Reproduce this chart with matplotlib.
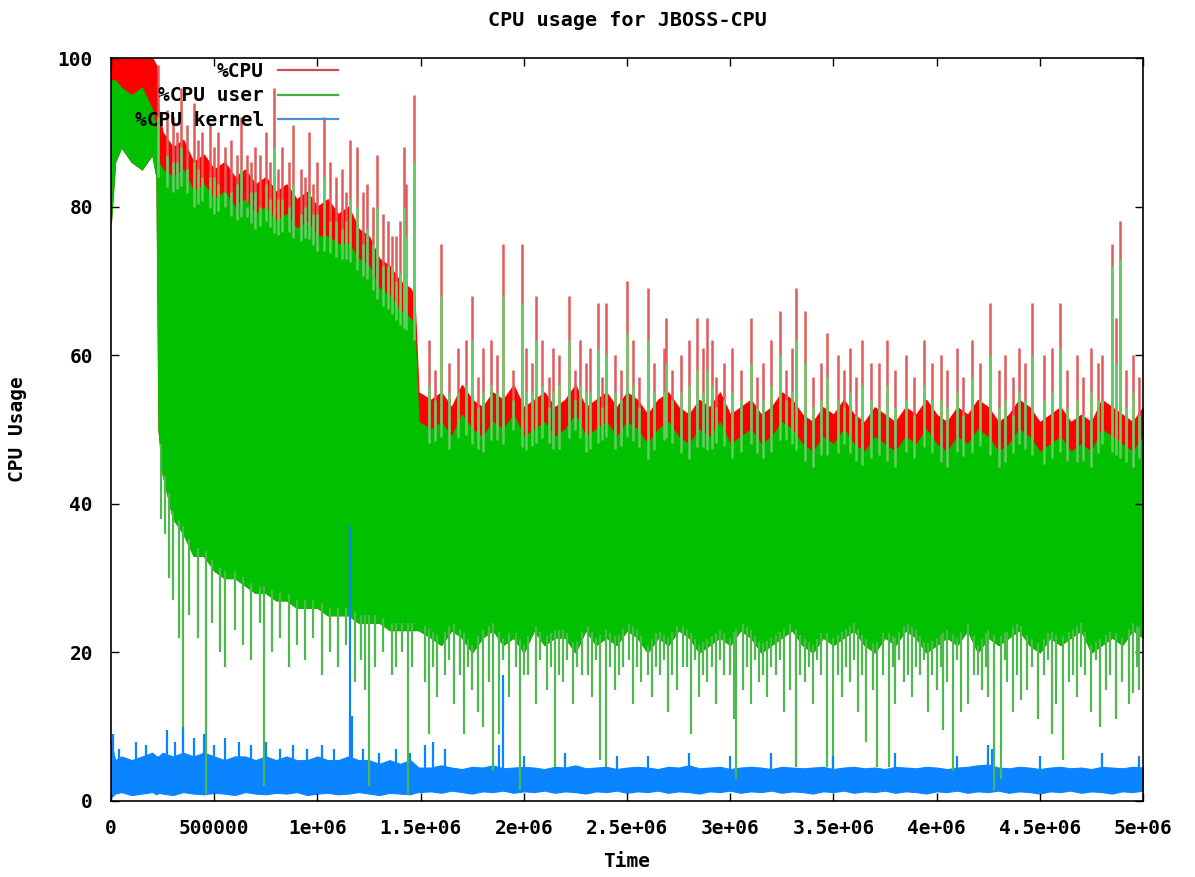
import numpy as np
import matplotlib
matplotlib.use("Agg")
import matplotlib.pyplot as plt
from matplotlib.lines import Line2D

# ---------------- data (time in millions, values in % CPU) ----------------
grid_t_million = [
    0.00, 0.02, 0.05, 0.10, 0.15, 0.20, 0.22, 0.23,
    0.25, 0.30, 0.35, 0.40, 0.45, 0.50, 0.55, 0.60, 0.65, 0.70,
    0.75, 0.80, 0.85, 0.90, 0.95, 1.00, 1.05, 1.10, 1.15, 1.20,
    1.25, 1.30, 1.35, 1.40, 1.45, 1.47, 1.49,
    1.55, 1.60, 1.65, 1.70, 1.75, 1.80, 1.85, 1.90, 1.95, 2.00,
    2.05, 2.10, 2.15, 2.20, 2.25, 2.30, 2.35, 2.40, 2.45, 2.50,
    2.55, 2.60, 2.65, 2.70, 2.75, 2.80, 2.85, 2.90, 2.95, 3.00,
    3.05, 3.10, 3.15, 3.20, 3.25, 3.30, 3.35, 3.40, 3.45, 3.50,
    3.55, 3.60, 3.65, 3.70, 3.75, 3.80, 3.85, 3.90, 3.95, 4.00,
    4.05, 4.10, 4.15, 4.20, 4.25, 4.30, 4.35, 4.40, 4.45, 4.50,
    4.55, 4.60, 4.65, 4.70, 4.75, 4.80, 4.85, 4.90, 4.95, 5.00,
]

cpu_top = [
    100, 100, 100, 100, 100, 100, 99, 93,
    90, 88, 89, 86, 87, 85, 86, 84, 85, 83,
    84, 82, 83, 81, 82, 80, 81, 79, 80, 77,
    76, 73, 72, 70, 69, 68, 55,
    54, 55, 53, 56, 54, 53, 55, 54, 56, 53,
    54, 55, 53, 54, 56, 53, 54, 55, 53, 55,
    54, 52, 54, 55, 53, 52, 54, 53, 55, 52,
    53, 54, 52, 53, 55, 54, 52, 51, 53, 52,
    54, 52, 51, 53, 52, 51, 53, 52, 54, 52,
    51, 53, 52, 54, 53, 51, 52, 54, 53, 51,
    52, 53, 51, 52, 51, 54, 53, 52, 51, 53,
]

user_top = [
    97, 97, 96, 95, 96, 93, 90, 86,
    85, 84, 85, 82, 83, 81, 82, 80, 81, 79,
    80, 78, 79, 77, 78, 76, 76, 75, 75, 73,
    72, 69, 68, 66, 65, 64, 51,
    50, 51, 49, 52, 50, 49, 51, 50, 52, 49,
    50, 51, 49, 50, 52, 49, 50, 51, 49, 51,
    50, 48, 50, 51, 49, 48, 50, 49, 51, 48,
    49, 50, 48, 49, 51, 50, 48, 47, 49, 48,
    50, 48, 47, 49, 48, 47, 49, 48, 50, 48,
    47, 49, 48, 50, 49, 47, 48, 50, 49, 47,
    48, 49, 47, 48, 47, 50, 49, 48, 47, 49,
]

user_bottom = [
    78, 86, 88, 86, 85, 87, 84, 50,
    44, 38, 36, 33, 33, 31, 30, 30, 29, 28,
    28, 27, 27, 26, 26, 26, 25, 25, 25, 24,
    24, 24, 23, 23, 23, 23, 23,
    22, 21, 23, 22, 20, 22, 23, 21, 22, 20,
    23, 21, 22, 22, 20, 23, 21, 22, 21, 23,
    22, 20, 22, 21, 23, 22, 20, 21, 22, 21,
    23, 22, 20, 21, 22, 23, 21, 20, 22, 21,
    22, 23, 21, 20, 22, 21, 23, 22, 20, 21,
    22, 21, 23, 20, 22, 21, 22, 23, 21, 20,
    22, 21, 22, 23, 20, 21, 22, 21, 23, 22,
]

kernel_top = [
    8.0, 5.5, 6.0, 5.5, 6.0, 6.5, 6.0, 6.0,
    6.5, 6.0, 6.5, 6.0, 6.5, 6.0, 5.5, 6.0, 6.0, 5.5,
    6.0, 5.5, 6.0, 5.5, 5.5, 6.0, 5.5, 5.5, 6.0, 5.5,
    5.5, 5.0, 5.5, 5.0, 5.5, 5.0, 4.5,
    4.5, 4.8, 4.5, 4.3, 4.6, 4.5, 4.8, 4.4, 4.5, 4.6,
    4.5, 4.3, 4.6, 4.5, 4.8, 4.4, 4.5, 4.6, 4.3, 4.5,
    4.6, 4.5, 4.3, 4.6, 4.5, 4.8, 4.4, 4.5, 4.6, 4.3,
    4.5, 4.6, 4.5, 4.3, 4.6, 4.5, 4.4, 4.5, 4.6, 4.3,
    4.5, 4.6, 4.4, 4.5, 4.3, 4.6, 4.5, 4.4, 4.6, 4.5,
    4.3, 4.5, 4.6, 4.8, 4.9, 4.5, 4.4, 4.6, 4.5, 4.3,
    4.5, 4.6, 4.4, 4.5, 4.3, 4.6, 4.5, 4.4, 4.6, 4.5,
]

kernel_bottom = [
    0.5, 1.0, 1.2, 0.8, 1.0, 1.2, 0.9, 1.1,
    1.0, 0.8, 1.2, 1.0, 0.9, 1.1, 1.0, 0.8, 1.2, 1.0,
    0.9, 1.1, 1.0, 1.2, 0.8, 1.0, 1.1, 0.9, 1.0, 1.2,
    1.0, 0.8, 1.1, 1.0, 0.9, 1.1, 1.2,
    1.3, 1.1, 1.4, 1.2, 1.0, 1.3, 1.2, 1.4, 1.1, 1.3,
    1.2, 1.4, 1.1, 1.3, 1.2, 1.0, 1.3, 1.2, 1.4, 1.1,
    1.3, 1.2, 1.4, 1.1, 1.3, 1.2, 1.0, 1.3, 1.2, 1.4,
    1.1, 1.3, 1.2, 1.4, 1.1, 1.3, 1.2, 1.0, 1.3, 1.2,
    1.4, 1.1, 1.3, 1.2, 1.4, 1.1, 1.3, 1.2, 1.0, 1.3,
    1.2, 1.4, 1.1, 1.3, 1.2, 1.4, 1.1, 1.3, 1.2, 1.0,
    1.3, 1.2, 1.4, 1.1, 1.3, 1.2, 1.0, 1.3, 1.2, 1.4,
]

# upward spikes: %CPU peak and the %CPU user peak beneath it
cpu_spike_t_million = [
    0.23, 0.27, 0.30, 0.34, 0.37, 0.40, 0.44, 0.48, 0.52, 0.55,
    0.58, 0.63, 0.66, 0.70, 0.72, 0.75, 0.79, 0.83, 0.86, 0.88,
    0.92, 0.96, 1.00, 1.03, 1.06, 1.09, 1.12, 1.16, 1.19, 1.22,
    1.24, 1.29, 1.32, 1.34, 1.38, 1.40, 1.42, 1.43, 1.47,
    1.54, 1.60, 1.68, 1.72, 1.75, 1.80, 1.84, 1.90, 1.99, 2.01,
    2.06, 2.09, 2.14, 2.22, 2.27, 2.32, 2.36, 2.40, 2.50, 2.53,
    2.60, 2.68, 2.69, 2.80, 2.84, 2.87, 2.89, 2.91, 3.01, 3.10,
    3.20, 3.24, 3.30, 3.32, 3.36, 3.47, 3.52, 3.58, 3.64, 3.72,
    3.76, 3.85, 3.94, 4.02, 4.10, 4.17, 4.26, 4.33, 4.40, 4.46,
    4.52, 4.56, 4.60, 4.68, 4.75, 4.80, 4.85, 4.87, 4.89, 4.95,
    4.98,
    1.57, 1.64, 1.78, 1.87, 1.95, 2.04, 2.12, 2.17, 2.25, 2.30,
    2.38, 2.44, 2.47, 2.56, 2.63, 2.72, 2.76, 2.93, 2.97, 3.05,
    3.13, 3.16, 3.27, 3.40, 3.44, 3.55, 3.61, 3.68, 3.80, 3.89,
    3.98, 4.05, 4.13, 4.21, 4.30, 4.37, 4.43, 4.63, 4.71, 4.78,
    4.92,
    0.32, 0.42, 0.50, 0.61, 0.68, 0.77, 0.81, 0.94, 0.98, 1.14,
    1.27, 1.36,
]
cpu_spike_value = [
    99, 93, 92, 96, 91, 94, 90, 91, 90, 88,
    89, 92, 87, 88, 87, 90, 96, 88, 86, 91,
    85, 90, 86, 92, 86, 84, 85, 89, 88, 82,
    83, 87, 79, 78, 76, 78, 88, 83, 95,
    62, 75, 61, 62, 68, 61, 62, 75, 75, 61,
    68, 62, 61, 68, 62, 61, 67, 67, 70, 62,
    69, 61, 65, 62, 65, 61, 65, 62, 61, 65,
    62, 66, 61, 69, 66, 63, 60, 61, 62, 59,
    62, 60, 62, 60, 61, 62, 67, 60, 61, 67,
    60, 61, 67, 60, 61, 60, 75, 65, 78, 60,
    57,
    58, 59, 57, 60, 58, 59, 57, 60, 58, 59,
    57, 60, 58, 57, 59, 58, 60, 57, 59, 58,
    57, 59, 58, 57, 59, 58, 57, 59, 58, 57,
    59, 58, 57, 59, 58, 57, 59, 58, 57, 59,
    58,
    90, 89, 88, 87, 86, 86, 85, 84, 83, 82,
    80, 76,
]
user_spike_value = [
    92, 87, 86, 88, 85, 86, 84, 84, 83, 82,
    82, 85, 80, 82, 80, 83, 88, 81, 80, 83,
    79, 82, 79, 84, 78, 78, 77, 81, 80, 75,
    77, 80, 72, 72, 70, 71, 80, 76, 86,
    56, 68, 55, 56, 62, 55, 56, 68, 67, 55,
    62, 56, 55, 62, 56, 55, 61, 60, 63, 56,
    62, 55, 59, 56, 58, 55, 58, 56, 55, 59,
    56, 60, 55, 62, 59, 57, 54, 55, 56, 53,
    56, 54, 56, 54, 55, 57, 60, 54, 55, 60,
    54, 55, 61, 54, 55, 54, 72, 59, 73, 55,
    52,
    54, 55, 53, 55, 54, 55, 53, 56, 54, 55,
    53, 55, 54, 53, 55, 54, 55, 53, 54, 54,
    53, 54, 54, 53, 54, 53, 52, 54, 53, 52,
    54, 53, 52, 54, 53, 52, 54, 53, 52, 54,
    53,
    86, 85, 84, 83, 82, 81, 81, 80, 79, 78,
    75, 72,
]

# downward dips of %CPU user
user_dip_t_million = [
    0.24, 0.26, 0.28, 0.30, 0.33, 0.35, 0.38, 0.42, 0.46, 0.49,
    0.53, 0.55, 0.60, 0.64, 0.68, 0.72, 0.74, 0.78, 0.82, 0.86,
    0.90, 0.94, 0.98, 1.02, 1.06, 1.10, 1.14, 1.18, 1.21, 1.23,
    1.25, 1.28, 1.32, 1.36, 1.38, 1.41, 1.44, 1.46,
    1.52, 1.54, 1.58, 1.62, 1.66, 1.71, 1.75, 1.78, 1.80, 1.83,
    1.85, 1.88, 1.93, 1.98, 2.02, 2.06, 2.11, 2.15, 2.19, 2.24,
    2.28, 2.33, 2.37, 2.40, 2.44, 2.48, 2.53, 2.57, 2.62, 2.66,
    2.70, 2.74, 2.77, 2.81, 2.85, 2.89, 2.93, 2.97, 3.02, 3.03,
    3.06, 3.10, 3.14, 3.18, 3.22, 3.26, 3.29, 3.32, 3.36, 3.40,
    3.44, 3.47, 3.50, 3.54, 3.58, 3.62, 3.66, 3.69, 3.71, 3.74,
    3.77, 3.80, 3.84, 3.88, 3.92, 3.96, 4.00, 4.03, 4.05, 4.08,
    4.12, 4.15, 4.18, 4.22, 4.25, 4.28, 4.31, 4.34, 4.37, 4.41,
    4.44, 4.49, 4.52, 4.56, 4.58, 4.61, 4.64, 4.68, 4.72, 4.75,
    4.79, 4.82, 4.87, 4.90, 4.93, 4.95, 4.98,
    1.56, 1.64, 1.69, 1.73, 1.90, 1.96, 2.00, 2.08, 2.13, 2.17,
    2.21, 2.26, 2.31, 2.35, 2.42, 2.46, 2.51, 2.55, 2.60, 2.64,
    2.68, 2.72, 2.79, 2.83, 2.87, 2.91, 2.95, 3.00, 3.08, 3.12,
    3.16, 3.20, 3.24, 3.34, 3.38, 3.42, 3.52, 3.56, 3.60, 3.64,
    3.79, 3.82, 3.86, 3.90, 3.94, 3.98, 4.02, 4.10, 4.20, 4.24,
    4.33, 4.39, 4.46, 4.54, 4.66, 4.70, 4.77, 4.84, 4.97,
]
user_dip_value = [
    38, 36, 30, 27, 22, 2, 25, 22, 1, 24,
    20, 18, 23, 21, 19, 24, 2, 20, 22, 18,
    21, 19, 22, 17, 20, 18, 21, 16, 19, 15,
    2, 18, 20, 17, 18, 20, 1, 18,
    16, 9, 14, 17, 13, 9, 15, 12, 10, 16,
    4, 9, 14, 1.5, 17, 13, 15, 4.6, 16, 13,
    17, 14, 5.5, 4.6, 15, 18, 13, 16, 14, 17,
    12, 15, 18, 9, 14, 16, 13, 17, 11, 3,
    15, 13, 16, 14, 17, 12, 15, 4.6, 16, 13,
    17, 4.6, 1.5, 14, 16, 12, 8, 15, 4.6, 17,
    4.6, 13, 16, 14, 17, 12, 15, 9.5, 16, 4,
    12, 13, 17, 15, 14, 1.5, 3, 16, 12, 13.6,
    15, 11, 17, 9, 13, 5.5, 16, 14, 17, 12,
    10, 15, 11, 16, 13, 14.5, 15,
    18, 19, 17, 18, 19, 18, 17, 19, 18, 17,
    19, 18, 17, 19, 18, 17, 19, 18, 17, 18,
    19, 17, 18, 19, 17, 18, 19, 17, 18, 19,
    17, 18, 19, 17, 18, 19, 17, 18, 19, 17,
    18, 19, 17, 18, 19, 17, 18, 19, 17, 18,
    19, 17, 18, 19, 17, 18, 19, 17, 18,
]

# upward spikes of %CPU kernel
kernel_spike_t_million = [
    0.01, 0.04, 0.12, 0.17, 0.27, 0.31, 0.35, 0.40, 0.45, 0.50,
    0.55, 0.62, 0.68, 0.75, 0.82, 0.88, 0.95, 1.02, 1.08, 1.16,
    1.17, 1.22, 1.30, 1.38, 1.45, 1.52, 1.56, 1.62, 1.88, 1.90,
    2.00, 2.20, 2.45, 2.60, 2.80, 3.00, 3.20, 3.50, 3.80, 4.10,
    4.25, 4.27, 4.50, 4.80, 4.98,
]
kernel_spike_value = [
    9, 7, 8, 7.5, 9.5, 8, 10, 8.5, 9, 7.5,
    8.5, 8, 7.5, 8, 7, 7.5, 7, 7.5, 7, 37,
    11.5, 7, 6.5, 7, 6.5, 7.5, 8, 7, 7.5, 17,
    6, 6.5, 6, 6, 6.5, 6, 6.5, 6, 6.5, 6,
    7.5, 7, 6, 6.5, 6,
]

series_labels = ["%CPU", "%CPU user", "%CPU kernel"]
x_ticks = [0, 500000, 1000000, 1500000, 2000000, 2500000,
           3000000, 3500000, 4000000, 4500000, 5000000]
x_tick_labels = ["0", "500000", "1e+06", "1.5e+06", "2e+06", "2.5e+06",
                 "3e+06", "3.5e+06", "4e+06", "4.5e+06", "5e+06"]
y_ticks = [0, 20, 40, 60, 80, 100]

# ---------------- styling ----------------
RED = "#ff0000"
GREEN = "#00c000"
BLUE = "#0a84ff"
FONT = "DejaVu Sans Mono"

plt.rcParams["font.family"] = [FONT, "DejaVu Sans"]
plt.rcParams["font.weight"] = "bold"

fig = plt.figure(figsize=(11.95, 8.77), dpi=100)
ax = fig.add_axes([111 / 1195, 1 - 801 / 877, 1032 / 1195, 743 / 877])

t = np.array(grid_t_million) * 1e6
cpu_top_a = np.array(cpu_top, dtype=float)
user_top_a = np.array(user_top, dtype=float)
user_bot_a = np.array(user_bottom, dtype=float)

# %CPU (drawn first, overlapped by user)
ax.fill_between(t, user_bot_a, cpu_top_a, color=RED, lw=0.8, edgecolor=RED)
st = np.array(cpu_spike_t_million) * 1e6
ax.vlines(st, np.interp(st, t, user_top_a), cpu_spike_value,
          colors="#e05a5a", lw=1.8)

# %CPU user
ax.fill_between(t, user_bot_a, user_top_a, color=GREEN, lw=0.8, edgecolor=GREEN)
ax.vlines(st, np.interp(st, t, user_top_a) - 2, user_spike_value,
          colors="#66cc66", lw=1.8)
dt = np.array(user_dip_t_million) * 1e6
ax.vlines(dt, user_dip_value, np.interp(dt, t, user_bot_a) + 1,
          colors="#4fb84f", lw=1.6)

# %CPU kernel
ax.fill_between(t, kernel_bottom, kernel_top, color=BLUE, lw=0.8, edgecolor=BLUE)
kt = np.array(kernel_spike_t_million) * 1e6
ax.vlines(kt, np.interp(kt, t, kernel_bottom), kernel_spike_value,
          colors=BLUE, lw=1.6)

ax.set_xlim(0, 5e6)
ax.set_ylim(0, 100)
ax.set_xticks(x_ticks)
ax.set_xticklabels(x_tick_labels)
ax.set_yticks(y_ticks)
ax.tick_params(direction="in", length=6, width=1, top=True, right=True,
               labelsize=14, pad=13)
for lbl in ax.get_xticklabels() + ax.get_yticklabels():
    lbl.set_fontweight("bold")
for sp in ax.spines.values():
    sp.set_linewidth(1.2)
    sp.set_color("black")
    sp.set_zorder(5)

ax.set_title("CPU usage for JBOSS-CPU", fontsize=14.5, fontweight="bold", pad=23)
ax.set_xlabel("Time", fontsize=14, fontweight="bold", labelpad=10)
ax.set_ylabel("CPU Usage", fontsize=14, fontweight="bold", labelpad=22)

handles = [Line2D([], [], color="#d05050", lw=1.6),
           Line2D([], [], color="#40b040", lw=1.6),
           Line2D([], [], color="#4a90d9", lw=1.6)]
leg = ax.legend(handles, series_labels, loc="upper right",
                bbox_to_anchor=((338 - 111) / 1032, (801 - 62) / 743),
                markerfirst=False, frameon=False, fontsize=14,
                handlelength=3.1, handletextpad=0.7, labelspacing=0.28,
                borderaxespad=0, borderpad=0)
for txt in leg.get_texts():
    txt.set_fontweight("bold")
leg.set_zorder(10)

fig.savefig("out.png", dpi=100)
